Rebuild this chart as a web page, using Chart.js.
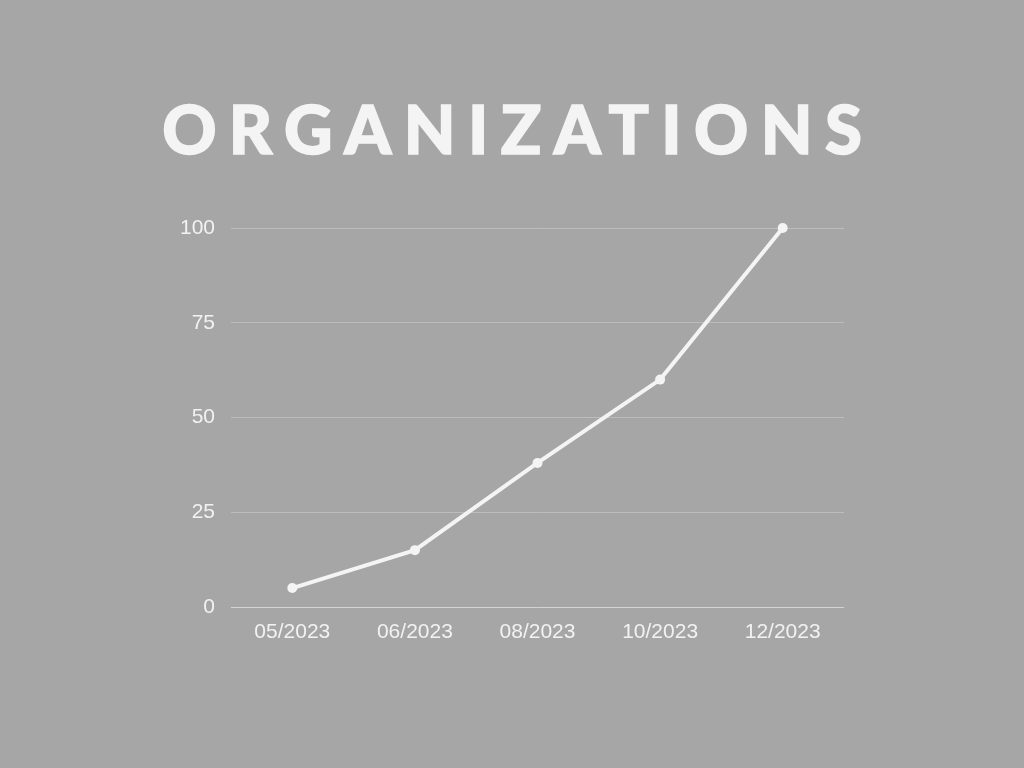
<!DOCTYPE html>
<html>
<head>
<meta charset="utf-8">
<script src="https://cdn.jsdelivr.net/npm/chart.js@4"></script>
<style>
  html, body { margin: 0; padding: 0; background: #a6a6a6; width: 1024px; height: 768px; overflow: hidden; }
  #title { position: absolute; left: 0; top: 78px; width: 1024px; text-align: center;
           font-family: Lato, sans-serif; font-weight: 900; font-size: 67px; line-height: 100px;
           color: #f4f4f4; letter-spacing: 12.4px; text-indent: 12.4px;
           -webkit-text-stroke: 1.5px #f4f4f4; }
  #wrap { position: absolute; left: 0; top: 0; width: 1024px; height: 768px; }
</style>
</head>
<body>
<div id="title">ORGANIZATIONS</div>
<div id="wrap"><canvas id="c" width="1024" height="768"></canvas></div>
<script>
const categories = ["05/2023", "06/2023", "08/2023", "10/2023", "12/2023"];
const organizations = [5, 15, 38, 60, 100];
const yTicks = [0, 25, 50, 75, 100];

const textColor = "#f2f2f2";
const tickFont = { family: "'Liberation Sans', Arial, sans-serif", size: 21 };
new Chart(document.getElementById("c"), {
  type: "line",
  data: {
    labels: categories,
    datasets: [{
      label: "Organizations",
      data: organizations,
      borderColor: "#f4f4f4",
      backgroundColor: "#f4f4f4",
      borderWidth: 4,
      pointRadius: 5,
      pointHoverRadius: 5,
      pointBackgroundColor: "#f4f4f4",
      pointBorderWidth: 0,
      tension: 0,
      clip: false
    }]
  },
  options: {
    responsive: false,
    animation: false,
    layout: { padding: { left: 0, top: 228, right: 180, bottom: 0 } },
    plugins: { legend: { display: false }, title: { display: false }, tooltip: { enabled: false } },
    scales: {
      x: {
        offset: true,
        grid: { display: false, drawTicks: false },
        border: { display: false },
        ticks: { color: textColor, font: tickFont, padding: 13, maxRotation: 0 },
        afterFit: (s) => { s.height = 161; }
      },
      y: {
        min: 0, max: 100,
        afterBuildTicks: (s) => { s.ticks = yTicks.map(v => ({ value: v })); },
        grid: {
          drawTicks: false,
          color: (ctx) => ctx.tick && ctx.tick.value === 0 ? "#d4d4d4" : "#bcbcbc",
          lineWidth: 1
        },
        border: { display: false },
        ticks: { color: textColor, font: tickFont, padding: 16 },
        afterFit: (s) => { s.width = 231; }
      }
    }
  }
});
</script>
</body>
</html>
